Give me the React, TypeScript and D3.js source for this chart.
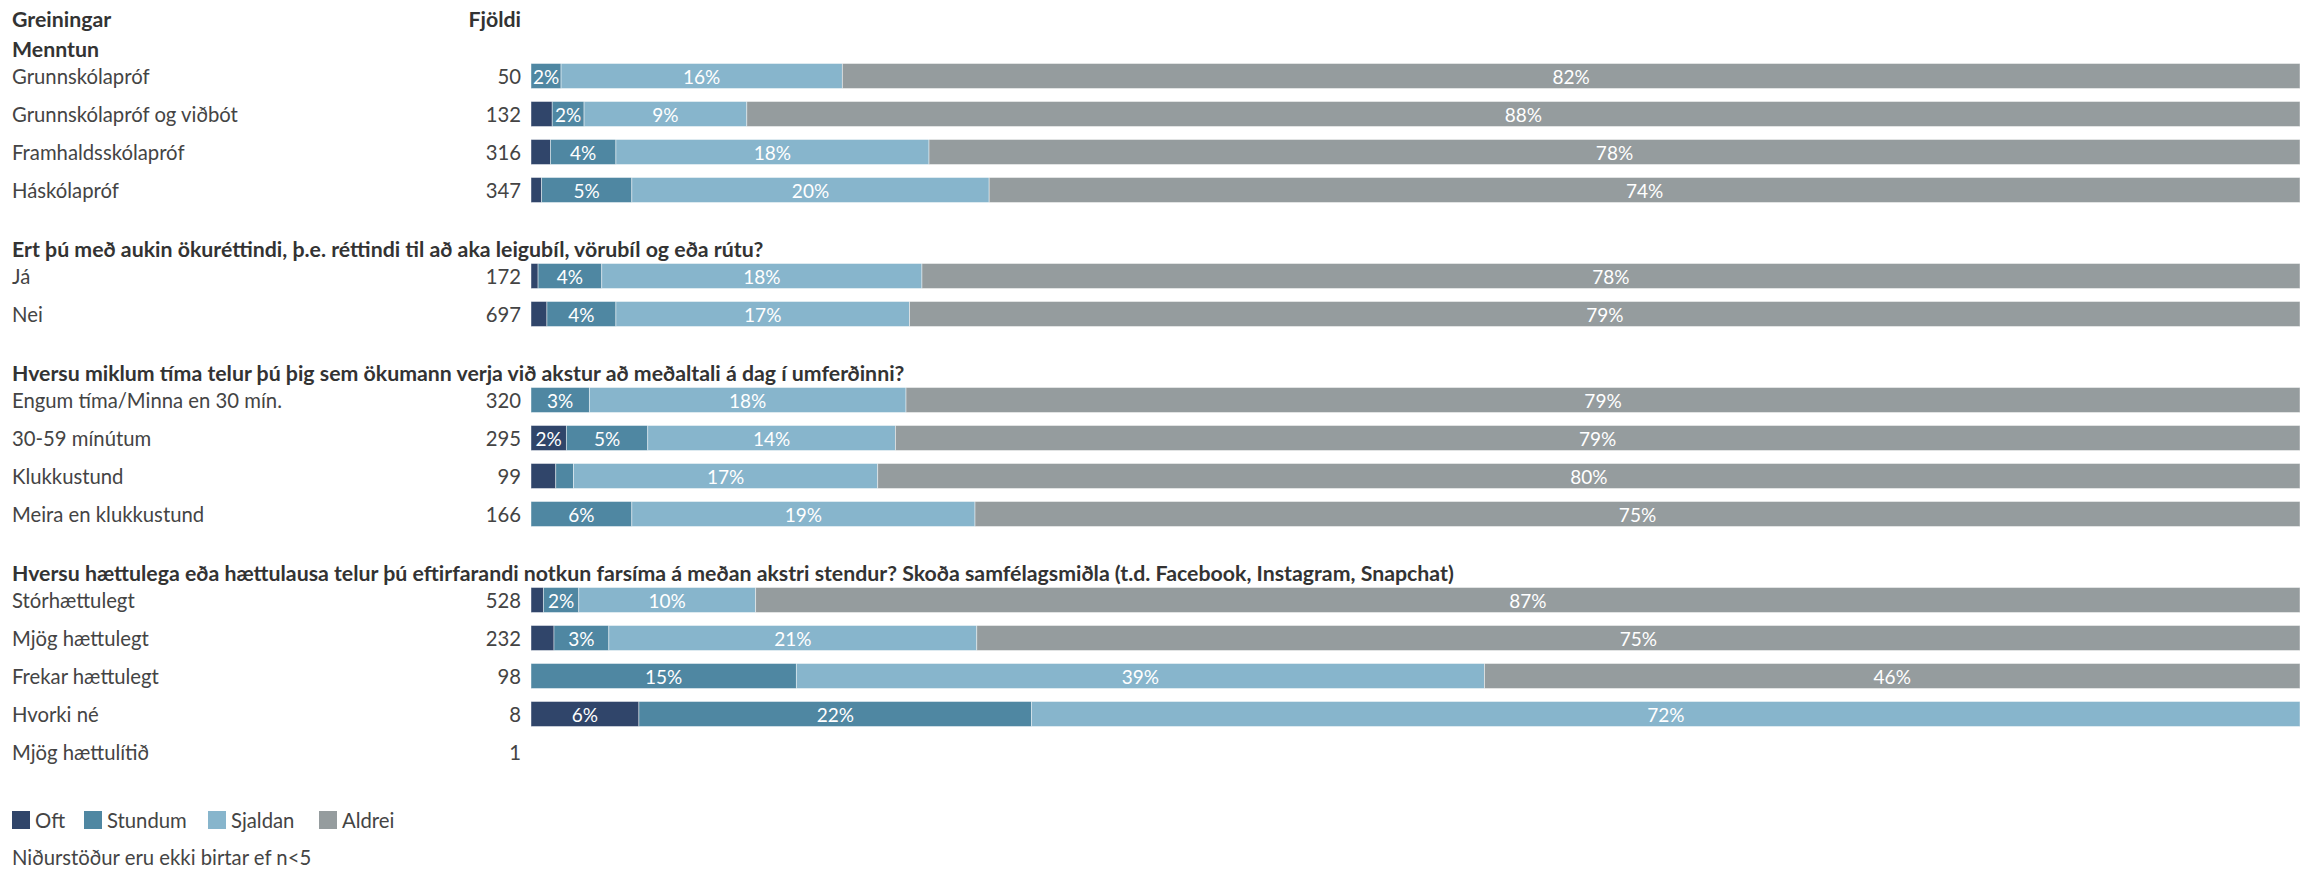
import React from "react";
import * as d3 from "d3";

const seriesNames = ["Oft", "Stundum", "Sjaldan", "Aldrei"];
const seriesColors = ["#30456a", "#4f87a2", "#87b5cc", "#959c9e"];

const sectionTitles = [
  "Menntun",
  "Ert þú með aukin ökuréttindi, þ.e. réttindi til að aka leigubíl, vörubíl og eða rútu?",
  "Hversu miklum tíma telur þú þig sem ökumann verja við akstur að meðaltali á dag í umferðinni?",
  "Hversu hættulega eða hættulausa telur þú eftirfarandi notkun farsíma á meðan akstri stendur? Skoða samfélagsmiðla (t.d. Facebook, Instagram, Snapchat)",
];

const rowSection = [0, 0, 0, 0, 1, 1, 2, 2, 2, 2, 3, 3, 3, 3, 3];
const rowLabels = [
  "Grunnskólapróf",
  "Grunnskólapróf og viðbót",
  "Framhaldsskólapróf",
  "Háskólapróf",
  "Já",
  "Nei",
  "Engum tíma/Minna en 30 mín.",
  "30-59 mínútum",
  "Klukkustund",
  "Meira en klukkustund",
  "Stórhættulegt",
  "Mjög hættulegt",
  "Frekar hættulegt",
  "Hvorki né",
  "Mjög hættulítið",
];
const rowCounts = [50, 132, 316, 347, 172, 697, 320, 295, 99, 166, 528, 232, 98, 8, 1];

// percentages (null = not shown, n<5)
const oft: (number | null)[] = [0, 1.2, 1.1, 0.6, 0.4, 0.9, 0, 2.0, 1.4, 0, 0.7, 1.3, 0, 6.1, null];
const stundum: (number | null)[] = [1.7, 1.8, 3.7, 5.1, 3.6, 3.9, 3.3, 4.6, 1.0, 5.7, 2.0, 3.1, 15.0, 22.2, null];
const sjaldan: (number | null)[] = [15.9, 9.2, 17.7, 20.2, 18.1, 16.6, 17.9, 14.0, 17.2, 19.4, 10.0, 20.8, 38.9, 71.7, null];
const aldrei: (number | null)[] = [82.4, 87.8, 77.5, 74.1, 77.9, 78.6, 78.8, 79.4, 80.4, 74.9, 87.3, 74.8, 46.1, 0, null];

const headerLeft = "Greiningar";
const headerCount = "Fjöldi";
const footnote = "Niðurstöður eru ekki birtar ef n<5";

const W = 2300;
const H = 869;
const FONT = "Lato, 'Source Sans Pro', sans-serif";

export default function App() {
  const x = d3.scaleLinear().domain([0, 100]).range([531, W]);
  const series = [oft, stundum, sjaldan, aldrei];

  // vertical layout
  const headerYs: number[] = [];
  const rowYs: number[] = [];
  let y = 49;
  let prevSec = -1;
  rowSection.forEach((s, i) => {
    if (s !== prevSec) {
      if (prevSec >= 0) y = rowYs[i - 1] + 59;
      headerYs[s] = y;
      y += 27;
      prevSec = s;
    } else {
      y += 38;
    }
    rowYs[i] = y;
  });

  const barH = 25;
  const textColor = "#444";
  const fs = 20.3;
  const fsBold = 21.3;

  const legendX = [12, 84, 208, 319];

  return (
    <svg
      width={W}
      height={H}
      style={{ position: "absolute", left: 0, top: 0, fontFamily: FONT }}
    >
      <rect x={0} y={0} width={W} height={H} fill="#fff" />
      <text x={12} y={19} dominantBaseline="central" fontSize={fsBold} fontWeight={700} fill="#333">
        {headerLeft}
      </text>
      <text x={521} y={19} textAnchor="end" dominantBaseline="central" fontSize={fsBold} fontWeight={700} fill="#333">
        {headerCount}
      </text>
      {sectionTitles.map((t, s) => (
        <text key={"h" + s} x={12} y={headerYs[s]} dominantBaseline="central" fontSize={fsBold} fontWeight={700} fill="#333">
          {t}
        </text>
      ))}
      {rowLabels.map((lab, i) => {
        const cy = rowYs[i];
        let acc = 0;
        const segs = series.map((arr, k) => {
          const v = arr[i];
          if (v == null || v <= 0) return null;
          const x0 = x(acc);
          acc += v;
          const x1 = x(acc);
          return (
            <g key={k}>
              <rect
                x={x0}
                y={cy - barH / 2}
                width={Math.max(0, x1 - x0)}
                height={barH}
                fill={seriesColors[k]}
                stroke="rgba(255,255,255,0.55)"
                strokeWidth={0.8}
              />
              {v >= 1.5 && (
                <text
                  x={(x0 + x1) / 2}
                  y={cy}
                  textAnchor="middle"
                  dominantBaseline="central"
                  fontSize={19}
                  fill="#fff"
                >
                  {Math.round(v) + "%"}
                </text>
              )}
            </g>
          );
        });
        return (
          <g key={"r" + i}>
            <text x={12} y={cy} dominantBaseline="central" fontSize={fs} fill={textColor}>
              {lab}
            </text>
            <text x={521} y={cy} textAnchor="end" dominantBaseline="central" fontSize={fs} fill={textColor}>
              {rowCounts[i]}
            </text>
            {segs}
          </g>
        );
      })}
      {seriesNames.map((n, k) => (
        <g key={"l" + k}>
          <rect x={legendX[k]} y={811} width={18} height={18} fill={seriesColors[k]} />
          <text x={legendX[k] + 23} y={820} dominantBaseline="central" fontSize={fs} fill={textColor}>
            {n}
          </text>
        </g>
      ))}
      <text x={12} y={857} dominantBaseline="central" fontSize={fs} fill={textColor}>
        {footnote}
      </text>
    </svg>
  );
}
